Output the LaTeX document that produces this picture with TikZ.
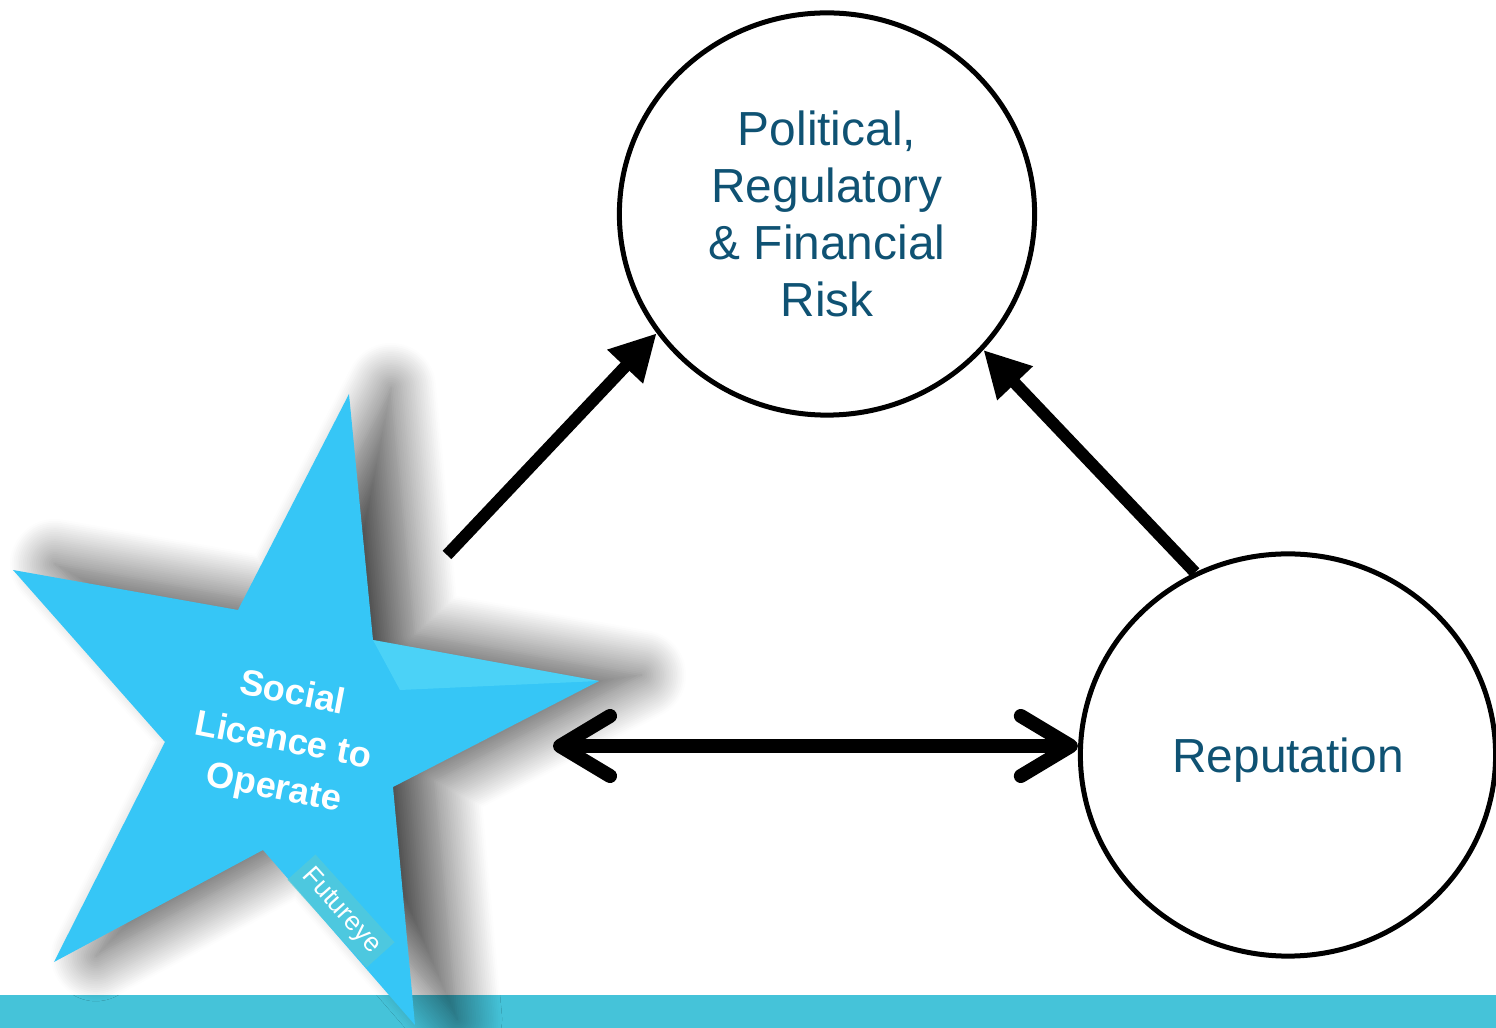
\documentclass[tikz,border=0pt]{standalone}
\usepackage{fontspec}
\setmainfont{Liberation Sans}
\usepackage{tikz}
\usetikzlibrary{positioning,shapes.geometric,arrows.meta,shadows.blur}

\definecolor{textblue}{HTML}{0F5273}
\definecolor{starblue}{HTML}{36C6F6}
\definecolor{starlight}{HTML}{7DEFFC}
\definecolor{barteal}{HTML}{45C3D9}
\definecolor{tagteal}{HTML}{55CAD8}

\begin{document}
\begin{tikzpicture}[x=0.01cm, y=-0.01cm,
        bubble/.style={draw, ellipse, line width=0.05cm, minimum width=4.15cm, minimum height=4.02cm, inner sep=0pt,
            text=textblue, align=center, font=\fontsize{13.6}{16.2}\selectfont},
        fat/.style={draw=black, line width=0.12cm, -{Triangle[length=0.46cm, width=0.46cm, fill=black]}},
        both/.style={line width=0.14cm, {Straight Barb[length=0.5cm, width=0.6cm, round]}-{Straight Barb[length=0.5cm, width=0.6cm, round]}}]
        \useasboundingbox (0,0) rectangle (1496,1028);
        % bottom band
        \fill[barteal] (0,995) rectangle (1496,1028);
        % the two circles
        \node[bubble] (risk) at (827,214) {Political,\\Regulatory\\\& Financial\\Risk};
        \node[bubble] (rep) at (1288,755) {\rule{0pt}{12.6pt}Reputation};
        % connectors
        \coordinate (a_tail) at (447,555);
        \coordinate (b_end) at (553,746);
        \draw[fat] (a_tail) -- (risk.215);
        \draw[fat] (rep.117) -- (risk.319);
        \draw[both] (b_end) -- (b_end -| rep.west);
        % star corners, clockwise from the top point
        \foreach \px/\py [count=\i] in {349/394,373/640,599/681,393/787,415/1025,263/850,54/962,165/742,13/570,238/610}{
            \coordinate (S_\i) at (\px,\py);
        }
        \fill[starblue, blur shadow={shadow xshift=0.42cm, shadow yshift=0.06cm, shadow blur radius=0.45cm,
                shadow blur steps=25, shadow opacity=70}]
            (S_1) -- (S_2) -- (S_3) -- (S_4) -- (S_5) -- (S_6) -- (S_7) -- (S_8) -- (S_9) -- (S_10) -- cycle;
        % soft highlight on the right arm
        \fill[starlight, opacity=0.3] (S_2) -- (S_3) -- (400,690) -- cycle;
        \node[text=white, font=\bfseries\fontsize{10.3}{13.7}\selectfont, align=center, rotate=-11] (slo) at (283,742)
            {Social\\Licence to\\Operate};
        \node[text=white, fill=tagteal, fill opacity=0.75, text opacity=1, font=\fontsize{7.5}{8}\selectfont,
            rotate=-48, inner sep=2pt] (tag) at (341,911) {Futureye};
\end{tikzpicture}
\end{document}
